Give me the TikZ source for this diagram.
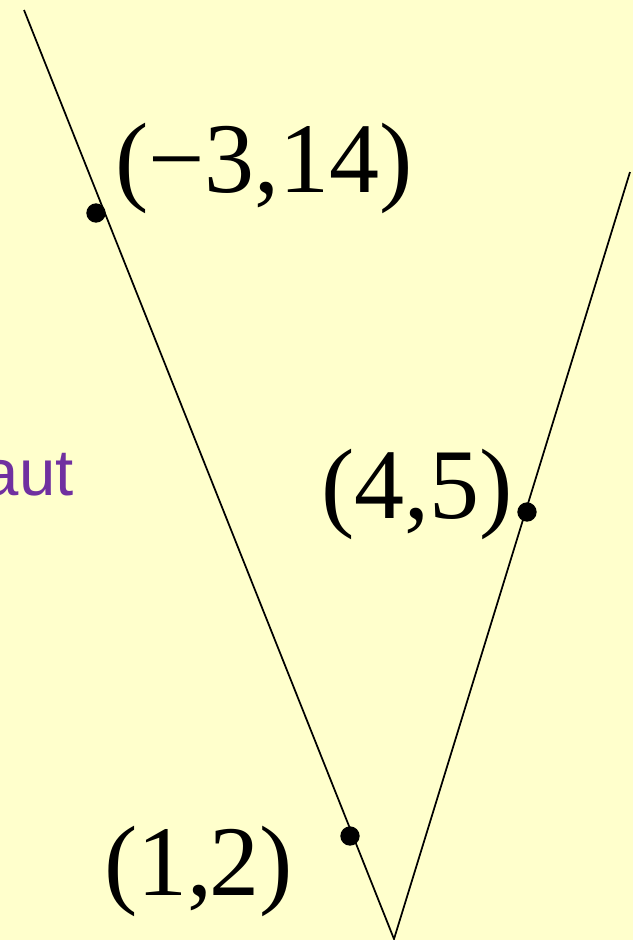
\documentclass[tikz,border=0pt]{standalone}
\usepackage{fontspec}
\setmainfont{Liberation Serif}
\newfontfamily\labsans{Liberation Sans}
\definecolor{bgyellow}{HTML}{FFFFCC}
\definecolor{txtpurple}{HTML}{7030A0}
\begin{document}
\begin{tikzpicture}[x=0.75pt,y=-0.75pt,
  dotpt/.style={circle,fill=black,inner sep=0pt,minimum size=14.5pt},
  coordlab/.style={inner sep=0pt,anchor=base west,font=\fontsize{75}{80}\selectfont},
  vline/.style={line width=1.3pt,black}]
\fill[bgyellow] (0,0) rectangle (633,940);
\useasboundingbox (0,0) rectangle (633,940);
\begin{scope}
\clip (0,0) rectangle (633,940);
\coordinate (ltop) at (24,10);
\coordinate (vtx) at (394,939);
\coordinate (rtop) at (630,172);
\draw[vline] (ltop) -- (vtx) -- (rtop);
\node[dotpt] (p1) at (96,213) {};
\node[dotpt] (p2) at (527,512) {};
\node[dotpt] (p3) at (350,836) {};
\node[coordlab] (l1) at (115,192) {(−3,14)};
\node[coordlab] (l2) at (321,518) {(4,5)};
\node[coordlab] (l3) at (104,895) {(1,\kern-2pt 2)};
\node[inner sep=0pt,anchor=base east,text=txtpurple,font=\labsans\fontsize{49}{52}\selectfont] (w) at (74,495) {aut};
\end{scope}
\end{tikzpicture}
\end{document}
